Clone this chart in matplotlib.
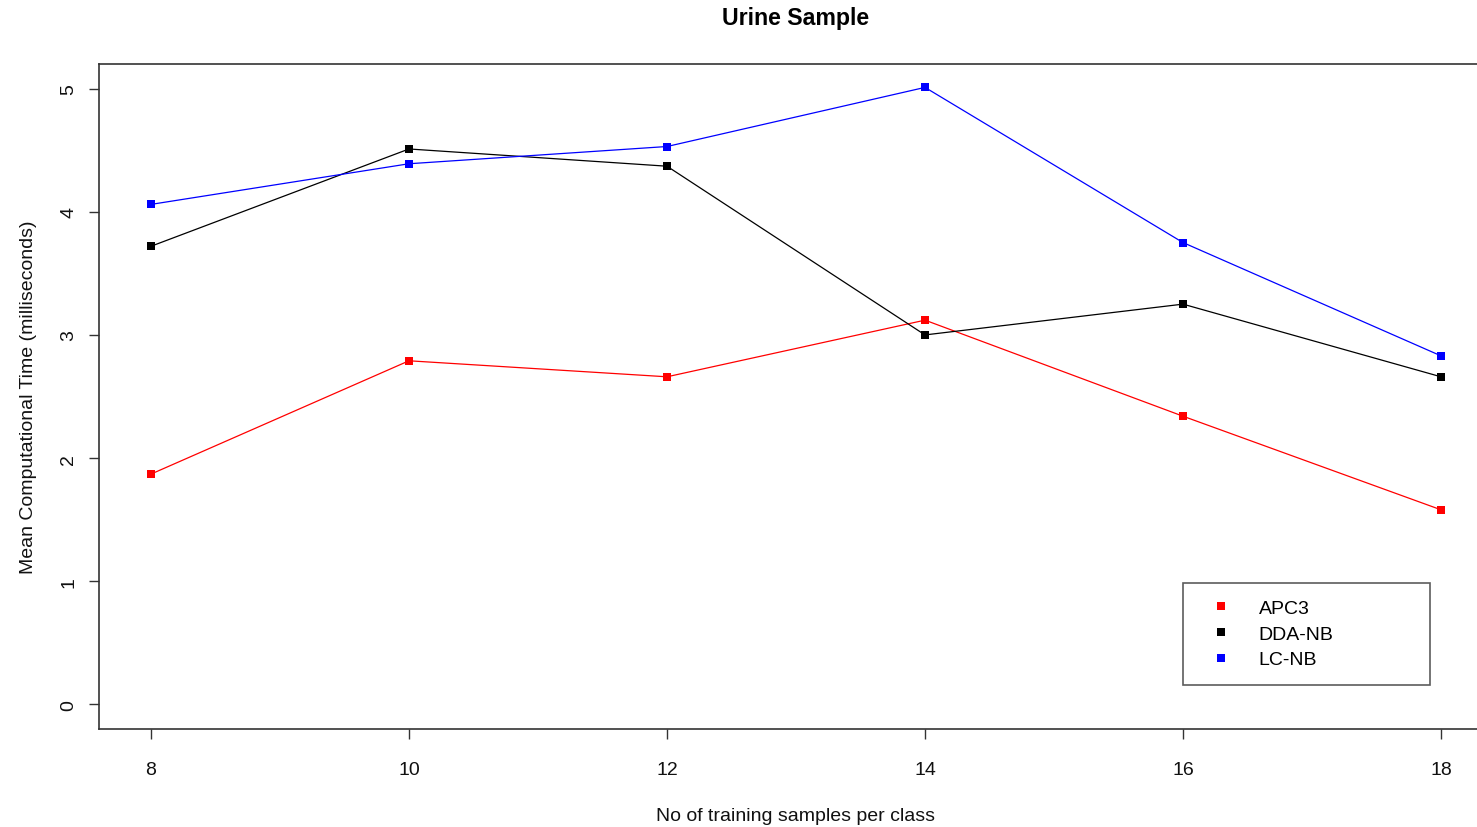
import matplotlib
matplotlib.use("Agg")
import matplotlib.pyplot as plt
from matplotlib.lines import Line2D

plt.rcParams['font.family'] = ['Liberation Sans', 'DejaVu Sans']

samples = [8, 10, 12, 14, 16, 18]
apc3 = [1.87, 2.79, 2.66, 3.12, 2.34, 1.58]
dda_nb = [3.72, 4.51, 4.37, 3.00, 3.25, 2.66]
lc_nb = [4.06, 4.39, 4.53, 5.01, 3.75, 2.83]
series_names = ["APC3", "DDA-NB", "LC-NB"]
series_colors = ["#ff0000", "#000000", "#0000ff"]
yticks = [0, 1, 2, 3, 4, 5]

fig = plt.figure(figsize=(14.77, 8.28), dpi=100)
W, H = 1477, 828
ax = fig.add_axes([99.4 / W, 98 / H, (1492.6 - 99.4) / W, 665 / H])

for vals, c in zip([apc3, dda_nb, lc_nb], series_colors):
    ax.plot(samples, vals, color=c, lw=0.9, marker='s', markersize=6,
            markeredgewidth=0, markerfacecolor=c)

ax.set_xlim(7.6, 18.4)
ax.set_ylim(-0.2, 5.2)
ax.set_xticks(samples)
ax.set_yticks(yticks)
ax.tick_params(axis='both', labelsize=14, length=7, width=1, colors='#333333',
               labelcolor='#111111')
ax.tick_params(axis='x', pad=16)
ax.tick_params(axis='y', pad=9)
for lab in ax.get_yticklabels():
    lab.set_rotation(90)
    lab.set_va('center')
for sp in ax.spines.values():
    sp.set_color('#333333')
    sp.set_linewidth(1.2)

ax.set_xlabel("No of training samples per class", fontsize=14, labelpad=21, color='#111111')
ax.set_ylabel("Mean Computational Time (milliseconds)", fontsize=14, labelpad=17, color='#111111')
fig.text(796 / W, 1 - 19 / H, "Urine Sample", ha='center', va='center',
         fontsize=16.7, fontweight='bold')

handles = [Line2D([], [], linestyle='none', marker='s', markersize=6,
                  markeredgewidth=0, color=c) for c in series_colors]
leg = ax.legend(handles, series_names, loc='lower left',
                bbox_to_anchor=(0.7778, 0.0662, 0.1773, 0.1549), mode='expand',
                fontsize=14, frameon=True, fancybox=False, borderpad=0.85,
                labelspacing=0.42, handlelength=2.25, handletextpad=0.8,
                borderaxespad=0)
leg.get_frame().set_edgecolor('#333333')
leg.get_frame().set_linewidth(1.2)

fig.savefig("out.png", dpi=100)
